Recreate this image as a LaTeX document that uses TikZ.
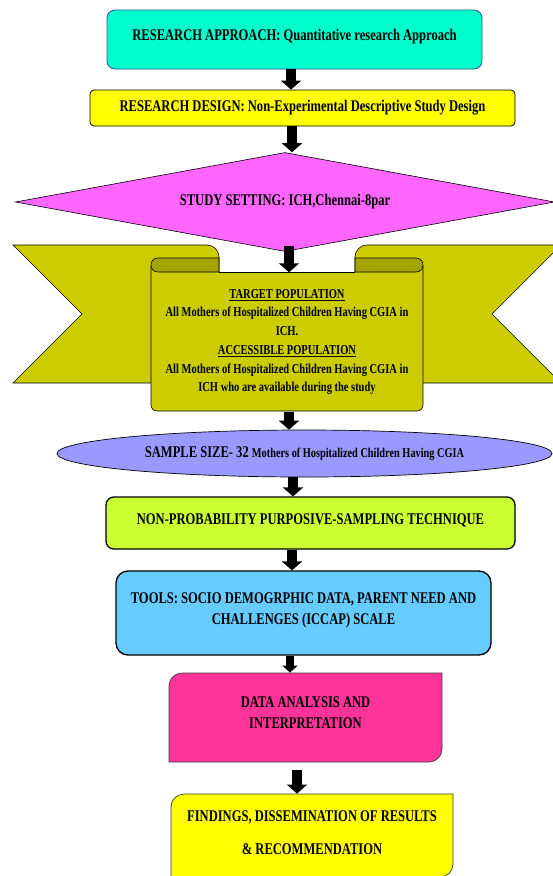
\documentclass[tikz,border=0pt]{standalone}
\usepackage{fontspec}
\newfontfamily\tnr[FakeStretch=0.77]{Liberation Serif}
\usetikzlibrary{shapes.geometric,arrows.meta}
\definecolor{cApproach}{RGB}{0,255,204}
\definecolor{cDesign}{RGB}{255,255,0}
\definecolor{cSetting}{RGB}{255,102,255}
\definecolor{cRibbon}{RGB}{204,204,0}
\definecolor{cFold}{RGB}{163,163,0}
\definecolor{cSample}{RGB}{153,153,255}
\definecolor{cTech}{RGB}{204,255,51}
\definecolor{cTools}{RGB}{102,204,255}
\definecolor{cAnalysis}{RGB}{255,51,153}
\definecolor{cFind}{RGB}{255,255,0}
\definecolor{cEdgeBlue}{RGB}{47,82,143}
\definecolor{cEdgeGray}{RGB}{60,60,60}
\newcommand{\mylines}[1]{\begin{tabular}{@{}c@{}}#1\end{tabular}}
\newcommand{\lift}[2]{\raisebox{#1}[\height][\depth]{#2}}
\begin{document}
\begin{tikzpicture}[x=1pt,y=-1pt,
  bigtext/.style={font=\tnr\bfseries\fontsize{16.3}{21}\selectfont, align=center},
  box/.style={bigtext, inner sep=0pt, line width=0.8pt},
  ribbonline/.style={draw=black, line width=0.6pt},
  blockarr/.style={line width=9.5pt, draw=black, -{Triangle[length=9pt,width=20pt]}},
  smallarr/.style={line width=8.5pt, draw=black, -{Triangle[length=7pt,width=15pt]}},
]
\useasboundingbox (0,0) rectangle (552,876);

% boxes
\node[box, draw=cEdgeBlue, fill=cApproach, rounded corners=8pt, minimum width=375pt, minimum height=59pt] (approach) at (294.5,39.5) {\lift{2.5pt}{RESEARCH APPROACH: Quantitative research Approach}};
\node[box, draw=black, fill=cDesign, rounded corners=4pt, minimum width=425pt, minimum height=36pt] (design) at (302.5,108) {RESEARCH DESIGN: Non-Experimental Descriptive Study Design};
\node[box, diamond, aspect=5.4, draw=black, line width=0.6pt, fill=cSetting, minimum width=539pt, minimum height=99pt] (setting) at (285,202) {STUDY SETTING: ICH,Chennai-8par};

% ribbon wings
\draw[ribbonline, fill=cRibbon] (13,245) -- (207,245) .. controls (213.6,245) and (219,250.4) .. (219,257) -- (219,383) -- (13,383) -- (82,314) -- cycle;
\draw[ribbonline, fill=cRibbon] (561,245) -- (367,245) .. controls (360.4,245) and (355,250.4) .. (355,257) -- (355,383) -- (561,383) -- (492,314) -- cycle;
% ribbon panel
\fill[cRibbon] (151,265) -- (151,405) .. controls (151,408.3) and (153.7,411) .. (157,411) -- (417,411) .. controls (420.3,411) and (423,408.3) .. (423,405) -- (423,265) -- (416,272) -- (158,272) -- cycle;
\draw[ribbonline] (151,265) -- (151,405) .. controls (151,408.3) and (153.7,411) .. (157,411) -- (417,411) .. controls (420.3,411) and (423,408.3) .. (423,405) -- (423,265);
\draw[ribbonline] (219,272) -- (355,272);
% folds
\draw[ribbonline, fill=cFold] (219,258) -- (158,258) .. controls (148.7,258) and (148.7,272) .. (158,272) -- (219,272) -- cycle;
\draw[ribbonline, fill=cFold] (355,258) -- (416,258) .. controls (425.3,258) and (425.3,272) .. (416,272) -- (355,272) -- cycle;
\node[inner sep=0pt, minimum width=272pt, minimum height=139pt, align=center, font=\tnr\bfseries\fontsize{13.6}{18.7}\selectfont] (panel) at (287,342) {\underline{TARGET POPULATION}\\All Mothers of Hospitalized Children Having CGIA in\\ICH.\\\underline{ACCESSIBLE POPULATION}\\All Mothers of Hospitalized Children Having CGIA in\\ICH who are available during the study};

\node[ellipse, draw=black, line width=0.7pt, fill=cSample, minimum width=495pt, minimum height=47pt, inner sep=0pt, font=\tnr\bfseries] (sample) at (304.5,453.5) {\fontsize{16.3}{18}\selectfont SAMPLE SIZE- 32 \fontsize{13.4}{18}\selectfont Mothers of Hospitalized Children Having CGIA};

\node[box, draw=black, line width=1.3pt, fill=cTech, rounded corners=8pt, minimum width=409pt, minimum height=52pt] (technique) at (310.5,523) {\lift{2.5pt}{NON-PROBABILITY PURPOSIVE-SAMPLING TECHNIQUE}};

\node[box, draw=black, line width=1.3pt, fill=cTools, rounded corners=12pt, minimum width=375pt, minimum height=84pt] (tools) at (303.5,613) {\lift{3pt}{\mylines{TOOLS: SOCIO DEMOGRPHIC DATA, PARENT NEED AND\\CHALLENGES (ICCAP) SCALE}}};

% analysis shape
\draw[fill=cAnalysis, draw=cEdgeGray, line width=0.7pt] (442,673) -- (442,749) .. controls (442,756.2) and (436.2,762) .. (429,762) -- (169,762) -- (169,686) .. controls (169,678.8) and (174.8,673) .. (182,673) -- cycle;
\node[box, minimum width=273pt, minimum height=89pt] (analysis) at (305.5,717.5) {\lift{4pt}{\mylines{DATA ANALYSIS AND\\INTERPRETATION}}};

% findings shape
\draw[fill=cFind, draw=cEdgeGray, line width=0.7pt] (453,794) -- (453,864) .. controls (453,871.2) and (447.2,877) .. (440,877) -- (171,877) -- (171,807) .. controls (171,799.8) and (176.8,794) .. (184,794) -- cycle;
\node[box, minimum width=282pt, minimum height=83pt, font=\tnr\bfseries\fontsize{16.3}{33}\selectfont] (findings) at (312,835.5) {\lift{4pt}{\mylines{FINDINGS, DISSEMINATION OF RESULTS\\\& RECOMMENDATION}}};

% connectors
\draw[blockarr] (approach.south -| 291,0) -- (design.north -| 291,0);
\draw[blockarr] (design.south -| 292,0) -- (setting.north -| 292,0);
\draw[blockarr] ([yshift=6pt]setting.south -| 289,0) -- (panel.north -| 289,0);
\draw[blockarr] (panel.south -| 289,0) -- (sample.north -| 289,0);
\draw[blockarr] (sample.south -| 293,0) -- (technique.north -| 293,0);
\draw[blockarr] (technique.south -| 292,0) -- (tools.north -| 292,0);
\draw[smallarr] (tools.south -| 290,0) -- (analysis.north -| 290,0);
\draw[blockarr] ([yshift=-8pt]analysis.south -| 297,0) -- (findings.north -| 297,0);
\end{tikzpicture}
\end{document}
